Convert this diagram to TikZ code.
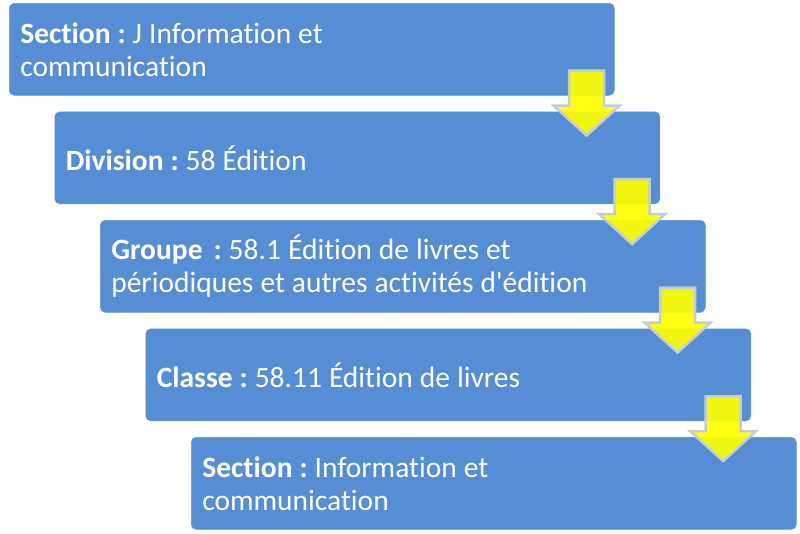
\documentclass[tikz,border=0pt]{standalone}
\usepackage{fontspec}
\setmainfont{Carlito}[Ligatures={NoCommon}]
\usetikzlibrary{calc}
\definecolor{boxblue}{RGB}{85,142,213}
\definecolor{arrowyel}{RGB}{255,255,0}
\definecolor{arrowedge}{RGB}{196,204,214}
\newcommand{\boxtextfont}{\fontsize{29.5}{33}\selectfont\frenchspacing}
\newcommand{\setboxspace}{\spaceskip=7pt\relax}
\tikzset{
  stepbox/.style={rectangle, rounded corners=5pt, fill=boxblue, draw=boxblue!90!white, line width=0.6pt,
    minimum width=605pt, minimum height=92pt, text width=583pt, inner xsep=11pt, inner ysep=0pt,
    align=left, anchor=north west, text=white, font=\boxtextfont,
    execute at begin node=\setboxspace},
  downarrow/.style={fill=arrowyel, fill opacity=0.92, draw=arrowedge, line width=2.5pt, line join=miter}
}
\newcommand{\blockarrow}[1]{%
  \path let \p1 = #1 in
    [downarrow] (\x1-17.5pt,\y1) -- (\x1+17.5pt,\y1) -- (\x1+17.5pt,\y1-35pt) -- (\x1+33pt,\y1-35pt)
    -- (\x1,\y1-65pt) -- (\x1-33pt,\y1-35pt) -- (\x1-17.5pt,\y1-35pt) -- cycle;}
\begin{document}
\begin{tikzpicture}[x=1pt,y=-1pt]
\useasboundingbox (0,0) rectangle (800,533);
\node[stepbox] (b1) at (9,3) {\textbf{Section :} J Information et\\communication};
\node[stepbox] (b2) at (54.5,111.5) {\textbf{Division :} 58 Édition};
\node[stepbox] (b3) at (100,220) {\textbf{Groupe\hspace{7pt}\hspace{4pt}:} 58.1 Édition de livres et\\périodiques et autres activités d\textquotesingle édition};
\node[stepbox] (b4) at (145.5,328.5) {\textbf{Classe :} 58.11 Édition de livres};
\node[stepbox] (b5) at (191,437) {\textbf{Section :} Information et\\communication};
\coordinate (a1) at ($(b1.south east)+(-28,-25)$);
\coordinate (a2) at ($(b2.south east)+(-28,-25)$);
\coordinate (a3) at ($(b3.south east)+(-28,-25)$);
\coordinate (a4) at ($(b4.south east)+(-28,-25)$);
\blockarrow{(a1)}
\blockarrow{(a2)}
\blockarrow{(a3)}
\blockarrow{(a4)}
\end{tikzpicture}
\end{document}
